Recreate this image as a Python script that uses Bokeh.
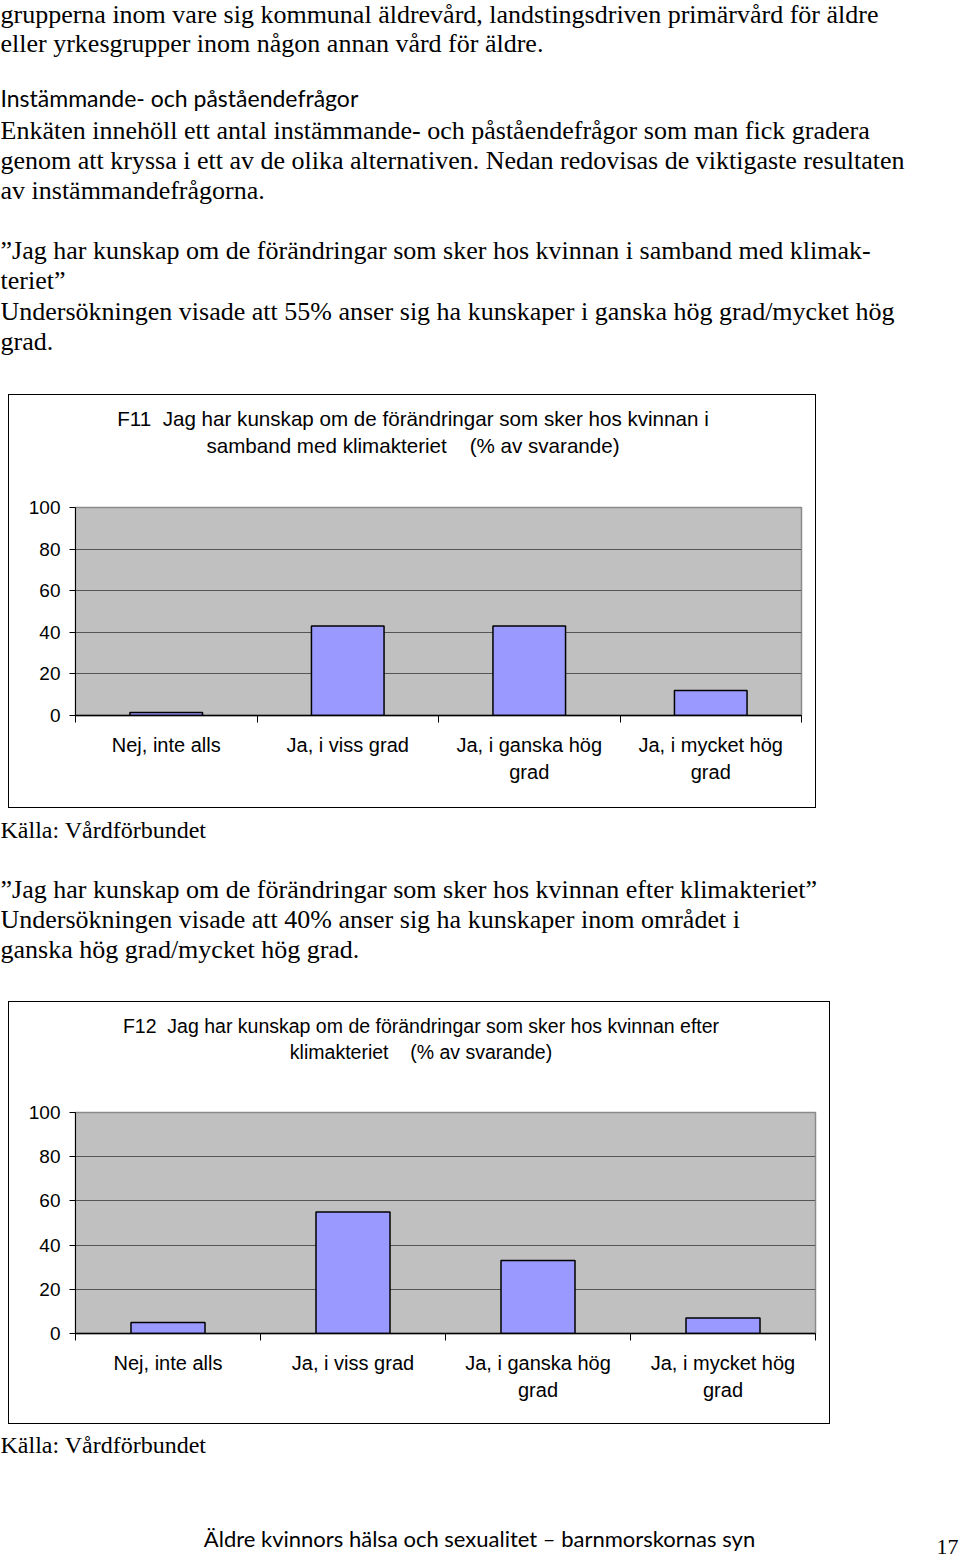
from bokeh.plotting import figure
from bokeh.layouts import column, row
from bokeh.models import Range1d, FixedTicker, Spacer, ColumnDataSource
from bokeh.core.properties import value
from bokeh.embed import file_html
from bokeh.resources import INLINE

# ---------------- data ----------------
categories = ["Nej, inte alls", "Ja, i viss grad", "Ja, i ganska hög\ngrad", "Ja, i mycket hög\ngrad"]
f11_values = [1.5, 43, 43, 12]
f12_values = [5, 55, 33, 7]
y_ticks = [0, 20, 40, 60, 80, 100]
f11_title = ["F11\u00a0 Jag har kunskap om de förändringar som sker hos kvinnan i",
             "samband med klimakteriet \u00a0\u00a0\u00a0(% av svarande)"]
f12_title = ["F12\u00a0 Jag har kunskap om de förändringar som sker hos kvinnan efter",
             "klimakteriet \u00a0\u00a0\u00a0(% av svarande)"]

text_a = [
    ("grupperna inom vare sig kommunal äldrevård, landstingsdriven primärvård för äldre", 14, "serif"),
    ("eller yrkesgrupper inom någon annan vård för äldre.", 43, "serif"),
    ("Instämmande- och påståendefrågor", 97, "sans"),
    ("Enkäten innehöll ett antal instämmande- och påståendefrågor som man fick gradera", 130, "serif"),
    ("genom att kryssa i ett av de olika alternativen. Nedan redovisas de viktigaste resultaten", 160, "serif"),
    ("av instämmandefrågorna.", 190, "serif"),
    ("”Jag har kunskap om de förändringar som sker hos kvinnan i samband med klimak-", 250, "serif"),
    ("teriet”", 280, "serif"),
    ("Undersökningen visade att 55% anser sig ha kunskaper i ganska hög grad/mycket hög", 311, "serif"),
    ("grad.", 341, "serif"),
]
text_b = [
    ("Källa: Vårdförbundet", 829, "source"),
    ("”Jag har kunskap om de förändringar som sker hos kvinnan efter klimakteriet”", 889, "serif"),
    ("Undersökningen visade att 40% anser sig ha kunskaper inom området i", 919, "serif"),
    ("ganska hög grad/mycket hög grad.", 949, "serif"),
]
text_c = [
    ("Källa: Vårdförbundet", 1444, "source"),
]
footer_text = "Äldre kvinnors hälsa och sexualitet – barnmorskornas syn"
page_number = "17"

SERIF = "Liberation Serif"
SANS = "Lato"
CHART_FONT = "Liberation Sans"
PAGE_W = 960
STYLE = {"serif": (SERIF, "26px"), "sans": (SANS, "23px"), "source": (SERIF, "24px")}


def page_fig(x0, x1, y0, y1, w=None):
    p = figure(width=w if w else x1 - x0, height=y1 - y0, x_range=Range1d(x0, x1), y_range=Range1d(y1, y0),
               output_backend="svg", toolbar_location=None, min_border=0,
               outline_line_color=None, background_fill_color="white", border_fill_color="white")
    p.axis.visible = False
    p.grid.visible = False
    return p


def text_block(lines, y0, h, extra=None):
    p = page_fig(0, PAGE_W, y0, y0 + h)
    for txt, y, kind in lines:
        font, size = STYLE[kind]
        p.text(x=[0], y=[y], text=[txt], text_baseline="middle", text_align="left",
               text_font=value(font), text_font_size=size, text_color="black")
    if extra:
        for txt, x, y, font, size, align in extra:
            p.text(x=[x], y=[y], text=[txt], text_baseline="middle", text_align=align,
                   text_font=value(font), text_font_size=size, text_color="black")
    return p


def line_el(w, h):
    return Spacer(width=w, height=h, styles={"background-color": "black"})


def chart(values, title_lines, box, frame, title_cx, title_y, title_size):
    # box, frame: (left, top, right, bottom) in page pixels; border line is 1px inside box
    bx0, by0, bx1, by1 = box
    fx0, fy0, fx1, fy1 = frame
    cx0, cy0, cx1, cy1 = bx0 + 1, by0 + 1, bx1 - 1, by1 - 1
    w, h = cx1 - cx0, cy1 - cy0
    ty1 = fy0 - 30  # bottom of title strip

    # title strip (its frame gets aligned with the chart frame by the column layout)
    t = page_fig(fx0, fx1, cy0, ty1, w=w)
    for txt, ty in zip(title_lines, title_y):
        t.text(x=[title_cx], y=[ty], text=[txt], text_align="center", text_baseline="middle",
               text_font=value(CHART_FONT), text_font_size=title_size, text_color="black")

    n = len(categories)
    xs = [i + 0.5 for i in range(n)]
    src = ColumnDataSource(dict(x=xs, top=values))
    p = figure(width=w, height=cy1 - ty1, x_range=Range1d(0, n), y_range=Range1d(0, 100),
               output_backend="svg", toolbar_location=None,
               min_border_left=fx0 - cx0, min_border_right=cx1 - fx1,
               min_border_top=fy0 - ty1, min_border_bottom=cy1 - fy1,
               background_fill_color="#C0C0C0", border_fill_color="white",
               outline_line_color="#8a8a8a", outline_line_width=1.5)
    p.vbar(x="x", top="top", bottom=0, width=0.4, source=src,
           fill_color="#9999FF", line_color="black", line_width=1.5)
    # x axis: labels at category centres, ticks at category boundaries
    p.xaxis.ticker = FixedTicker(ticks=xs, minor_ticks=list(range(n + 1)))
    p.xaxis.major_label_overrides = {x: c for x, c in zip(xs, categories)}
    p.xaxis.major_tick_line_color = None
    p.xaxis.major_tick_out = 0
    p.xaxis.major_tick_in = 0
    p.xaxis.minor_tick_out = 7
    p.xaxis.minor_tick_in = 0
    p.xaxis.minor_tick_line_color = "black"
    p.xaxis.axis_line_color = "black"
    p.xaxis.axis_line_width = 1.5
    p.xaxis.major_label_standoff = 11
    p.xaxis.major_label_text_font = CHART_FONT
    p.xaxis.major_label_text_font_size = "20px"
    p.xaxis.major_label_text_line_height = 1.27
    p.xaxis.major_label_text_color = "black"

    p.yaxis.ticker = FixedTicker(ticks=y_ticks)
    p.yaxis.minor_tick_line_color = None
    p.yaxis.major_tick_out = 6
    p.yaxis.major_tick_in = 0
    p.yaxis.major_tick_line_color = "black"
    p.yaxis.axis_line_color = "black"
    p.yaxis.major_label_standoff = 9
    p.yaxis.major_label_text_font = CHART_FONT
    p.yaxis.major_label_text_font_size = "19px"
    p.yaxis.major_label_text_color = "black"

    p.xgrid.visible = False
    p.ygrid.ticker = FixedTicker(ticks=y_ticks)
    p.ygrid.grid_line_color = "#555555"
    p.ygrid.grid_line_width = 1

    inner = row(line_el(1, h), column(t, p, spacing=0), line_el(1, h), spacing=0)
    boxed = column(line_el(w + 2, 1), inner, line_el(w + 2, 1), spacing=0)
    return row(Spacer(width=bx0, height=h + 2), boxed, Spacer(width=PAGE_W - bx1, height=h + 2), spacing=0)


# section A: y 0-394
sec_a = text_block(text_a, 0, 394)
# chart 1: box x 8-816, y 394-808
c1 = chart(f11_values, f11_title, (8, 394, 816, 808), (75, 507, 801, 715), 412.5, [418, 445], "20.6px")
# section B: y 808-1001
sec_b = text_block(text_b, 808, 193)
# chart 2: box x 8-830, y 1001-1424
c2 = chart(f12_values, f12_title, (8, 1001, 830, 1424), (75, 1112, 815, 1333), 420.5, [1025, 1051], "19.5px")
# section C: y 1424-1558
sec_c = text_block(text_c, 1424, 134, extra=[
    (footer_text, 479, 1538, SANS, "22px", "center"),
    (page_number, 958, 1546, SERIF, "22px", "right"),
])

layout = column(sec_a, c1, sec_b, c2, sec_c, spacing=0)

open("out.html", "w").write(file_html(layout, INLINE))
